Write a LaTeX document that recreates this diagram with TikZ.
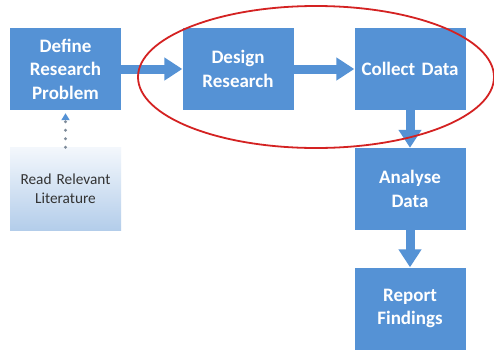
\documentclass[tikz,border=0pt]{standalone}
\usepackage{fontspec}
\newfontfamily\carlito{Carlito}
\usetikzlibrary{arrows.meta}
\definecolor{boxblue}{HTML}{5592D5}
\definecolor{litbot}{HTML}{B3CDEA}
\definecolor{littop}{HTML}{F3F7FC}
\definecolor{ellred}{HTML}{D42222}
\definecolor{dotgray}{HTML}{7D8A99}
\tikzset{
  stepbox/.style={fill=boxblue, draw=none, minimum width=111pt, minimum height=82pt,
    inner sep=0pt, text width=105pt, align=center, text=white,
    font=\carlito\bfseries\fontsize{19}{23.5}\selectfont},
  litbox/.style={top color=littop, bottom color=litbot, draw=none, minimum width=111pt,
    minimum height=83pt, inner sep=0pt, text width=105pt, align=center, text=black!80,
    font=\carlito\fontsize{15.3}{19}\selectfont},
  blockarrow/.style={draw=boxblue, line width=9pt,
    -{Triangle[length=18pt, width=22pt, fill=boxblue, color=boxblue]}},
  dotlink/.style={draw=dotgray, line width=3.2pt, line cap=round, dash pattern=on 0pt off 8.5pt,
    -{Triangle[length=7pt, width=8pt, fill=boxblue, color=boxblue, line cap=butt]}, shorten >=3pt},
  circled/.style={draw=ellred, line width=1.8pt}
}
\begin{document}
\begin{tikzpicture}[x=1pt, y=-1pt]
\useasboundingbox (0,0) rectangle (494,351);
\fill[white] (0,0) rectangle (494,351);
\node[stepbox] (define) at (65.5,69) {Define\\Research\\Problem};
\node[stepbox] (design) at (238,69) {Design\\Research};
\node[stepbox] (collect) at (410,69) {Collect Data};
\node[stepbox] (analyse) at (410,189) {Analyse\\Data};
\node[stepbox] (report) at (410,308.5) {Report\\Findings};
\node[litbox] (lit) at (65.5,189) {Read Relevant\\Literature};
\draw[blockarrow] (define) -- (design);
\draw[blockarrow] (design) -- (collect);
\draw[blockarrow] (collect) -- (analyse);
\draw[blockarrow] (analyse) -- (report);
\draw[dotlink] (lit) -- (define);
\draw[circled] (316,77) ellipse [x radius=178, y radius=71];
\end{tikzpicture}
\end{document}
